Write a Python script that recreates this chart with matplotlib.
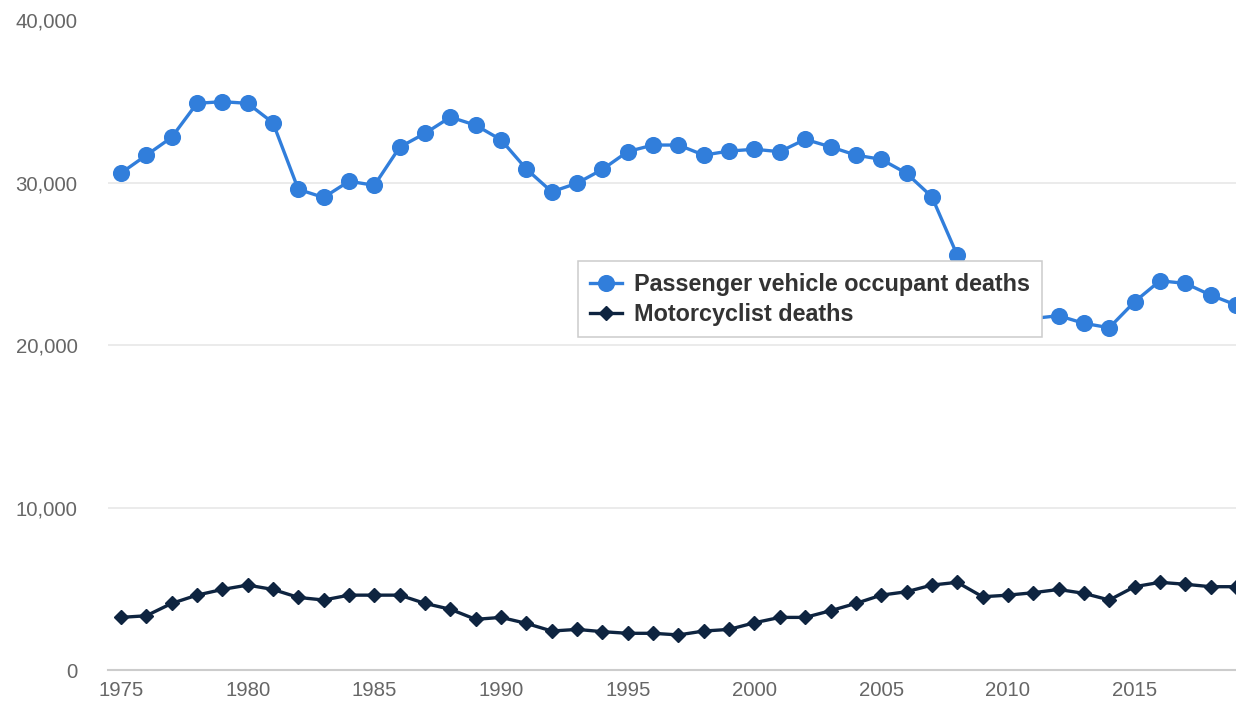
import matplotlib.pyplot as plt
from matplotlib.ticker import FuncFormatter

plt.rcParams['font.family'] = ['Liberation Sans', 'DejaVu Sans']

years = list(range(1975, 2020))
passenger = [30600, 31700, 32800, 34900, 35000, 34900, 33700, 29600, 29100, 30100,
             29850, 32200, 33050, 34050, 33550, 32650, 30850, 29450, 29980, 30830,
             31930, 32330, 32330, 31710, 31960, 32070, 31920, 32680, 32220, 31710,
             31450, 30590, 29140, 25550, 23380, 22270, 21650, 21820, 21350, 21080,
             22680, 23970, 23810, 23090, 22480]
motorcycle = [3240, 3340, 4100, 4610, 4960, 5230, 4960, 4470, 4310, 4610,
              4610, 4610, 4100, 3740, 3120, 3240, 2870, 2400, 2500, 2360,
              2260, 2260, 2160, 2400, 2500, 2910, 3240, 3240, 3650, 4100,
              4610, 4820, 5230, 5400, 4510, 4610, 4760, 4960, 4720, 4310,
              5130, 5400, 5280, 5130, 5130]
series_names = ['Passenger vehicle occupant deaths', 'Motorcyclist deaths']
y_ticks = [0, 10000, 20000, 30000, 40000]
x_ticks = [1975, 1980, 1985, 1990, 1995, 2000, 2005, 2010, 2015]

C_BLUE = '#317edb'
C_NAVY = '#0e2440'
C_GRID = '#e6e6e6'
C_TICK = '#666666'

fig = plt.figure(figsize=(12.36, 7.11), dpi=100)
fig.patch.set_facecolor('white')
ax = fig.add_axes([108/1236, 41/711, 1128/1236, 649.5/711])

ax.plot(years, passenger, color=C_BLUE, lw=2.4, marker='o', ms=11.3,
        label=series_names[0], zorder=3)
ax.plot(years, motorcycle, color=C_NAVY, lw=2.4, marker='D', ms=7.6,
        label=series_names[1], zorder=3)

ax.set_xlim(1974.49, 2019.0)
ax.set_ylim(0, 40000)
ax.set_xticks(x_ticks)
ax.set_yticks(y_ticks)
ax.yaxis.set_major_formatter(FuncFormatter(lambda v, p: f'{int(v):,}'))

ax.grid(axis='y', color=C_GRID, lw=1.1, zorder=0)
ax.set_axisbelow(True)
for s in ['top', 'right', 'left']:
    ax.spines[s].set_visible(False)
ax.spines['bottom'].set_color('#cccccc')
ax.spines['bottom'].set_linewidth(1.5)

ax.tick_params(axis='y', length=0, pad=22, labelsize=14.7, labelcolor=C_TICK)
ax.tick_params(axis='x', length=0, pad=8, labelsize=14.7, labelcolor=C_TICK)

leg = ax.legend(loc='upper left', bbox_to_anchor=(0.4167, 0.6297), borderaxespad=0,
                fancybox=False, framealpha=1, edgecolor='#cccccc',
                prop={'weight': 'bold', 'size': 16.8},
                handlelength=1.4, handletextpad=0.5, borderpad=0.5,
                labelspacing=0.3)
for t in leg.get_texts():
    t.set_color('#333333')
leg.get_frame().set_linewidth(1.1)

fig.savefig('out.png', dpi=100, facecolor='white')
